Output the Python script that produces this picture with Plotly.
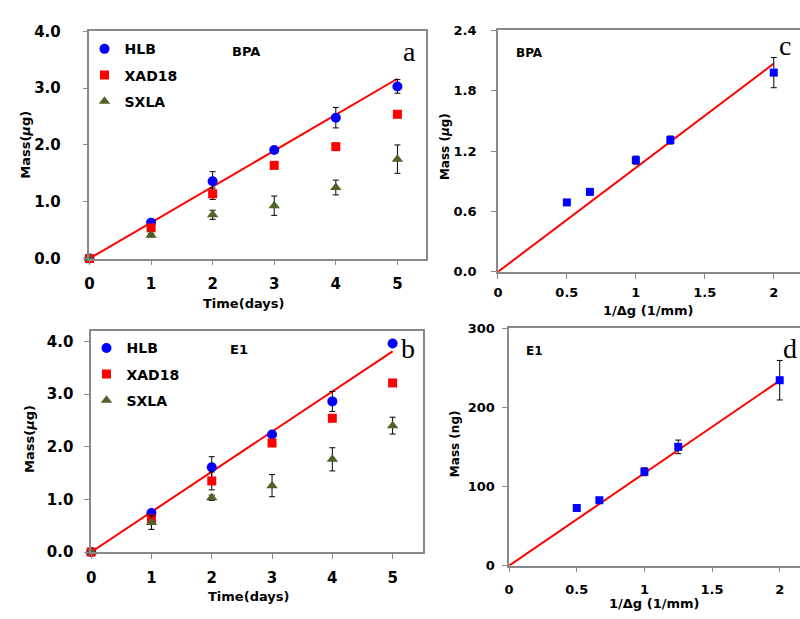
import plotly.graph_objects as go

# ---------------- data ----------------
days = [0, 1, 2, 3, 4, 5]

# Panel a: BPA
bpa_hlb = [0, 0.63, 1.36, 1.91, 2.48, 3.03]
bpa_hlb_err = [0, 0.06, 0.17, 0.03, 0.18, 0.12]
bpa_xad = [0, 0.54, 1.14, 1.64, 1.97, 2.54]
bpa_xad_err = [0, 0.05, 0.10, 0.03, 0.03, 0.04]
bpa_sxla = [0, 0.41, 0.77, 0.93, 1.25, 1.75]
bpa_sxla_err = [0, 0.03, 0.08, 0.17, 0.13, 0.25]
bpa_fit_x = [0, 5]
bpa_fit_y = [0, 3.165]

# Panel b: E1
e1_hlb = [0, 0.74, 1.61, 2.23, 2.86, 3.96]
e1_hlb_err = [0, 0.05, 0.20, 0.03, 0.19, 0.03]
e1_xad = [0, 0.63, 1.35, 2.07, 2.54, 3.21]
e1_xad_err = [0, 0.05, 0.17, 0.04, 0.04, 0.05]
e1_sxla = [0, 0.56, 1.03, 1.26, 1.76, 2.40]
e1_sxla_err = [0, 0.13, 0.05, 0.21, 0.22, 0.16]
e1_fit_x = [0, 5]
e1_fit_y = [0, 3.81]

# Panel c: BPA vs 1/dg
inv_dg = [0.5, 0.667, 1.0, 1.25, 2.0]
c_mass = [0.69, 0.795, 1.11, 1.31, 1.98]
c_err = [0.01, 0.03, 0.04, 0.04, 0.15]
c_fit_x = [0, 2]
c_fit_y = [0, 2.07]

# Panel d: E1 vs 1/dg
d_mass = [72.9, 82.7, 118.7, 150.2, 234.5]
d_err = [1, 3, 5, 8.6, 25]
d_fit_x = [0, 2]
d_fit_y = [0, 234]

day_ticks = [0, 1, 2, 3, 4, 5]
ab_yticks = [0, 1, 2, 3, 4]
ab_yticklabels = ["0.0", "1.0", "2.0", "3.0", "4.0"]
c_yticks = [0, 0.6, 1.2, 1.8, 2.4]
c_yticklabels = ["0.0", "0.6", "1.2", "1.8", "2.4"]
d_yticks = [0, 100, 200, 300]
cd_xticks = [0, 0.5, 1, 1.5, 2]
cd_xticklabels = ["0", "0.5", "1", "1.5", "2"]

# ---------------- style ----------------
W, H = 800, 619
FONT = "DejaVu Sans"
BLUE = "#0000FF"
RED = "#FF0000"
OLIVE = "#4F6228"
AXC = "#898989"


def px(x):
    return x / W


def py(y):
    return 1 - y / H


fig = go.Figure()


def err(arr):
    return dict(type="data", array=arr, visible=True, color="black", thickness=1, width=3)


def add_series(xa, ya, x, y, e, name, color, symbol, size, legend, grp, show=True):
    fig.add_trace(go.Scatter(
        x=x, y=y, mode="markers", name=name, xaxis=xa, yaxis=ya,
        marker=dict(color=color, symbol=symbol, size=size, line=dict(width=0)),
        error_y=err(e), cliponaxis=False, showlegend=show,
        legend=legend, legendgroup=grp,
    ))


def add_fit(xa, ya, x, y, legend, grp):
    fig.add_trace(go.Scatter(
        x=x, y=y, mode="lines", xaxis=xa, yaxis=ya,
        line=dict(color=RED, width=2), showlegend=False, cliponaxis=False,
        legend=legend, legendgroup=grp,
    ))


# Panel a
add_fit("x", "y", bpa_fit_x, bpa_fit_y, "legend", "a1")
add_series("x", "y", days, bpa_hlb, bpa_hlb_err, "HLB", BLUE, "circle", 10, "legend", "a1")
add_series("x", "y", days, bpa_xad, bpa_xad_err, "XAD18", RED, "square", 9, "legend", "a2")
add_series("x", "y", days, bpa_sxla, bpa_sxla_err, "SXLA", OLIVE, "triangle-up", 10, "legend", "a3")

# Panel b
add_fit("x2", "y2", e1_fit_x, e1_fit_y, "legend2", "b1")
add_series("x2", "y2", days, e1_hlb, e1_hlb_err, "HLB", BLUE, "circle", 10, "legend2", "b1")
add_series("x2", "y2", days, e1_xad, e1_xad_err, "XAD18", RED, "square", 9, "legend2", "b2")
add_series("x2", "y2", days, e1_sxla, e1_sxla_err, "SXLA", OLIVE, "triangle-up", 10, "legend2", "b3")

# Panel c
add_fit("x3", "y3", c_fit_x, c_fit_y, "legend", "a1")
add_series("x3", "y3", inv_dg, c_mass, c_err, "BPA", BLUE, "square", 8, "legend", "a1", show=False)

# Panel d
add_fit("x4", "y4", d_fit_x, d_fit_y, "legend2", "b1")
add_series("x4", "y4", inv_dg, d_mass, d_err, "E1", BLUE, "square", 8, "legend2", "b1", show=False)

tickfont = dict(family=FONT, size=15, color="black", weight="bold")
tickfont_s = dict(family=FONT, size=13, color="black", weight="bold")


def xaxis(domain, rng, anchor, tickvals, ticktext=None, font=tickfont, mirror=True, standoff=6):
    return dict(domain=domain, range=rng, anchor=anchor, tickvals=tickvals, ticktext=ticktext,
                showline=True, linecolor=AXC, linewidth=1.5, mirror=mirror,
                ticks="outside", ticklen=5, tickcolor=AXC, tickwidth=1,
                showgrid=False, zeroline=False, tickfont=font, ticklabelstandoff=standoff)


def yaxis(domain, rng, anchor, tickvals, ticktext=None, font=tickfont, mirror=True, standoff=9):
    return dict(domain=domain, range=rng, anchor=anchor, tickvals=tickvals, ticktext=ticktext,
                showline=True, linecolor=AXC, linewidth=1.5, mirror=mirror,
                ticks="outside", ticklen=5, tickcolor=AXC, tickwidth=1,
                showgrid=False, zeroline=False, tickfont=font, ticklabelstandoff=standoff)


legfont = dict(family=FONT, size=14, color="black", weight="bold")

fig.update_layout(
    width=W, height=H, margin=dict(l=0, r=0, t=0, b=0),
    paper_bgcolor="white", plot_bgcolor="white",
    font=dict(family=FONT, color="black"),
    xaxis=xaxis([px(85), px(424)], [0, 5.47], "y", day_ticks),
    yaxis=yaxis([py(257), py(23)], [0, 4.0], "x", ab_yticks, ab_yticklabels, standoff=19),
    xaxis2=xaxis([px(86.7), px(421)], [0, 5.51], "y2", day_ticks),
    yaxis2=yaxis([py(559.3), py(332)], [0, 4.19], "x2", ab_yticks, ab_yticklabels, standoff=8),
    xaxis3=xaxis([px(496), 1.0], [0, 2.19], "y3", cd_xticks, cd_xticklabels, tickfont_s, standoff=3),
    yaxis3=yaxis([py(270.7), py(22)], [0, 2.4], "x3", c_yticks, c_yticklabels, tickfont_s,
                 mirror=False, standoff=12),
    xaxis4=xaxis([px(507.3), 1.0], [0, 2.15], "y4", cd_xticks, cd_xticklabels, tickfont_s),
    yaxis4=yaxis([py(573.3), py(329)], [0, 300], "x4", d_yticks, None, tickfont_s,
                 mirror=False, standoff=5),
    legend=dict(x=px(80), y=py(25), xanchor="left", yanchor="top", font=legfont,
                bgcolor="rgba(0,0,0,0)", tracegroupgap=5, traceorder="grouped"),
    legend2=dict(x=px(82), y=py(333), xanchor="left", yanchor="top", font=legfont,
                 bgcolor="rgba(0,0,0,0)", tracegroupgap=5, traceorder="grouped"),
)

anns = []


def text(x, y, t, size=13, family=FONT, bold=True, angle=0):
    anns.append(dict(x=px(x), y=py(y), xref="paper", yref="paper", text=t, showarrow=False,
                     xanchor="center", yanchor="middle", textangle=angle,
                     font=dict(family=family, size=size, color="black",
                               weight="bold" if bold else "normal")))


# axis titles
text(240, 303, "Time(days)", 13)
text(245, 605, "Time(days)", 13)
text(647, 311, "1/Δg (1/mm)", 13)
text(653, 612, "1/Δg (1/mm)", 13)
text(21, 140, "Mass(<i>μ</i>g)", 13, angle=-90)
text(24, 443, "Mass(<i>μ</i>g)", 13, angle=-90)
text(443, 142, "Mass (<i>μ</i>g)", 12, angle=-90)
text(453, 448, "Mass (ng)", 12, angle=-90)

# panel inner labels
text(243, 44, "BPA", 13)
text(235, 351, "E1", 13)
text(528, 45, "BPA", 12)
text(533, 352, "E1", 12)

# panel letters
text(407, 44, "a", 28, "Liberation Serif", bold=False)
text(406, 350, "b", 28, "Liberation Serif", bold=False)
text(785, 38, "c", 28, "Liberation Serif", bold=False)
text(790, 350, "d", 28, "Liberation Serif", bold=False)

fig.update_layout(annotations=anns)

fig.write_html("out.html")
